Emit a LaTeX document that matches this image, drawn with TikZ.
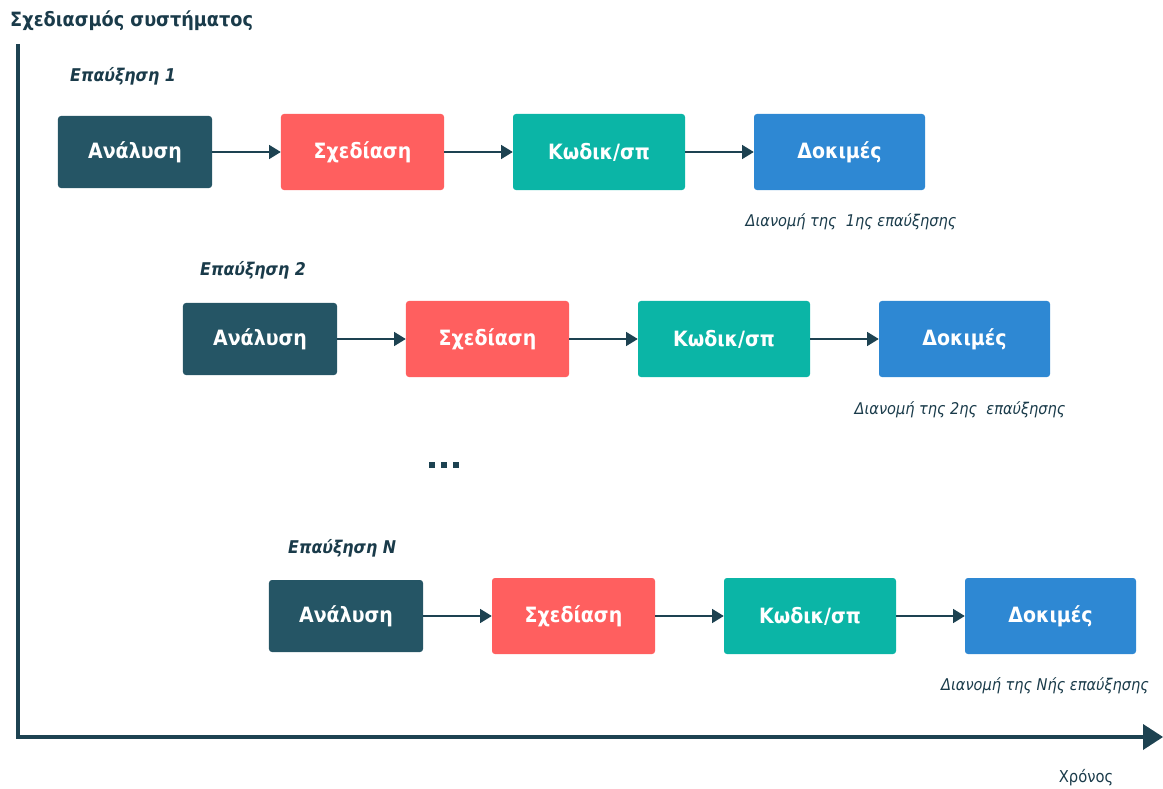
\documentclass[tikz,border=0pt]{standalone}
\usepackage{fontspec}
\setmainfont{DejaVu Sans Condensed}
\usetikzlibrary{arrows.meta}
\definecolor{dk}{HTML}{255565}
\definecolor{rd}{HTML}{FF5F5F}
\definecolor{tl}{HTML}{0BB5A6}
\definecolor{bl}{HTML}{2E88D3}
\definecolor{ln}{HTML}{1D4251}
\definecolor{tx}{HTML}{1A3B4A}
\begin{document}
\begin{tikzpicture}[x=0.03cm,y=-0.03cm,
  box/.style={rounded corners=2.5pt,minimum height=2.2cm,text=white,font=\bfseries\fontsize{18}{20}\selectfont,inner sep=0pt},
  conn/.style={ln,line width=1.3pt,-{Triangle[length=10pt,width=12pt]}},
  inc/.style={text=tx,font=\bfseries\itshape\fontsize{15}{17}\selectfont,anchor=west,inner sep=0pt},
  del/.style={text=tx,font=\itshape\fontsize{13.8}{15}\selectfont,inner sep=0pt}]
\useasboundingbox (0,0) rectangle (1163,789);
\node[anchor=west,text=tx,font=\bfseries\fontsize{16.8}{20}\selectfont,inner sep=0pt] (title) at (10,21) {Σχεδιασμός συστήματος};
\coordinate (top) at (18,44);
\coordinate (orig) at (18,737);
\coordinate (end) at (1163,737);
\draw[ln,line width=3pt] (top) -- (orig) -- ([xshift=-12pt]end);
\fill[ln] (end) -- ++(-20,-13) -- ++(0,26) -- cycle;
\node[text=tx,font=\fontsize{14}{16}\selectfont,inner sep=0pt] (time) at (1086,778) {Χρόνος};
\foreach \dx/\dy/\lx/\ly/\lab/\ex/\ey/\dlab/\r in {
  0/0/70/76/{Επαύξηση 1}/851/222/{Διανομή της\ \ 1ης επαύξησης}/a,
  125/187/200/270/{Επαύξηση 2}/960/410/{Διανομή της 2ης\ \ επαύξησης}/b,
  211/464/288/548/{Επαύξηση Ν}/1045/686/{Διανομή της Νής επαύξησης}/c}{
  \node[inc] (l\r) at (\lx,\ly) {\lab};
  \node[del] (d\r) at (\ex,\ey) {\dlab};
  \begin{scope}[shift={(\dx,\dy)}]
  \node[box,fill=dk,minimum width=4.62cm,minimum height=2.16cm] (A\r) at (135,152) {Ανάλυση};
  \node[box,fill=rd,minimum width=4.89cm,minimum height=2.28cm] (B\r) at (362.5,152) {Σχεδίαση};
  \node[box,fill=tl,minimum width=5.16cm,minimum height=2.28cm] (C\r) at (599,152) {Κωδικ/σπ};
  \node[box,fill=bl,minimum width=5.13cm,minimum height=2.28cm] (D\r) at (839.5,152) {Δοκιμές};
  \draw[conn] (A\r) -- (B\r);
  \draw[conn] (B\r) -- (C\r);
  \draw[conn] (C\r) -- (D\r);
  \end{scope}}
\foreach \i/\x in {1/432,2/444,3/456}{
  \fill[ln] (\x-3,462) rectangle (\x+3,468);}
\end{tikzpicture}
\end{document}
